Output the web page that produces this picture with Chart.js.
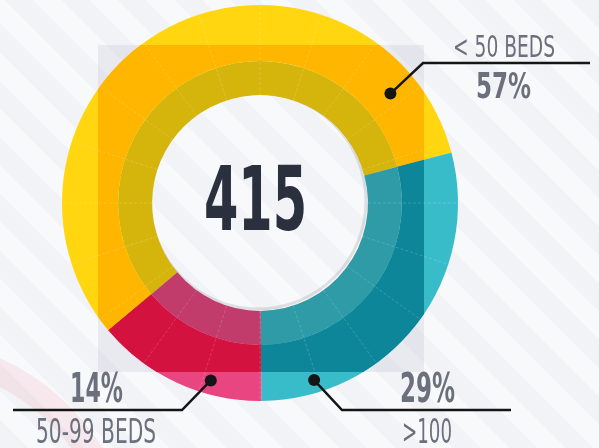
<!DOCTYPE html>
<html>
<head>
<meta charset="utf-8">
<script src="https://cdn.jsdelivr.net/npm/chart.js@4"></script>
<style>
  html, body { margin: 0; padding: 0; }
  body {
    width: 599px; height: 448px; overflow: hidden; position: relative;
    background: repeating-linear-gradient(45deg, #f2f3f6 0 20px, #f8f9fb 20px 40px);
  }
  canvas { position: absolute; left: 0; top: 0; }
  .lbl {
    position: absolute; white-space: nowrap; color: #6b707c; line-height: 1;
    font-family: "Liberation Sans Narrow", "DejaVu Sans Condensed", "Liberation Sans", sans-serif;
    transform-origin: left top;
  }
  .big { font-weight: bold; }
  .dark { color: #2b303e; }
</style>
</head>
<body>
<canvas id="grafico" width="599" height="448"></canvas>
<div id="etiquetas"></div>
<script>
// datos del gráfico
const categorias = ["< 50 BEDS", ">100", "50-99 BEDS"];
const porcentajes = [57, 29, 14];
const total = 415;

// colores: fuera del cuadro, dentro del cuadro, anillo interior
const coloresClaros = ["#ffd60f", "#39bcca", "#e84581"];
const coloresOscuros = ["#ffb600", "#0e8699", "#d3123f"];
const coloresAnillo = ["#d5b50c", "#2e9ba7", "#c13b6b"];

// anotaciones (ángulo del punto en grados, fracción del radio, línea)
const notas = [
  { ang: 50, rf: 0.86, lineY: 63, codoX: 423, finX: 590 },
  { ang: 163, rf: 0.935, lineY: 410, codoX: 342, finX: 511 },
  { ang: 195.5, rf: 0.93, lineY: 410, codoX: 182, finX: 13 }
];

const fondoPlugin = {
  id: "fondo",
  beforeDatasetsDraw(chart) {
    const ctx = chart.ctx;
    const arc = chart.getDatasetMeta(0).data[0];
    const r = arc.outerRadius;
    const hueco = chart.getDatasetMeta(1).data[0].innerRadius;
    // banda rosa tenue
    ctx.save();
    ctx.strokeStyle = "rgba(232,69,100,0.09)";
    ctx.lineWidth = 26;
    ctx.beginPath();
    ctx.moveTo(-10, 368);
    ctx.quadraticCurveTo(55, 395, 95, 460);
    ctx.stroke();
    // cuadro gris con hueco
    ctx.fillStyle = "rgba(195,200,212,0.30)";
    ctx.beginPath();
    ctx.rect(arc.x - 0.818 * r, arc.y - 0.798 * r, 1.646 * r, 1.652 * r);
    ctx.arc(arc.x, arc.y, hueco, 0, Math.PI * 2);
    ctx.fill("evenodd");
    ctx.restore();
  },
  afterDatasetsDraw(chart) {
    const ctx = chart.ctx;
    const meta = chart.getDatasetMeta(0);
    const a0 = meta.data[0];
    const r = a0.outerRadius;
    // parte oscura dentro del cuadro
    ctx.save();
    ctx.beginPath();
    ctx.rect(a0.x - 0.818 * r, a0.y - 0.798 * r, 1.646 * r, 1.652 * r);
    ctx.clip();
    meta.data.forEach((a, i) => {
      ctx.beginPath();
      ctx.arc(a.x, a.y, a.outerRadius, a.startAngle, a.endAngle);
      ctx.arc(a.x, a.y, a.innerRadius, a.endAngle, a.startAngle, true);
      ctx.closePath();
      ctx.fillStyle = coloresOscuros[i];
      ctx.fill();
    });
    ctx.restore();

    // líneas radiales finas
    const hueco = chart.getDatasetMeta(1).data[0].innerRadius;
    ctx.save();
    ctx.strokeStyle = "rgba(255,255,255,0.17)";
    ctx.lineWidth = 1;
    ctx.setLineDash([3, 2]);
    for (let k = 0; k < 20; k++) {
      const t = (k * 18 - 90) * Math.PI / 180;
      ctx.beginPath();
      ctx.moveTo(a0.x + hueco * Math.cos(t), a0.y + hueco * Math.sin(t));
      ctx.lineTo(a0.x + r * Math.cos(t), a0.y + r * Math.sin(t));
      ctx.stroke();
    }
    ctx.restore();

    // sombra del hueco
    ctx.save();
    ctx.beginPath();
    ctx.arc(a0.x, a0.y, hueco, 0, Math.PI * 2);
    ctx.clip();
    ctx.strokeStyle = "rgba(0,0,0,0.10)";
    ctx.lineWidth = 3;
    ctx.beginPath();
    ctx.arc(a0.x - 2, a0.y - 2, hueco, 0, Math.PI * 2);
    ctx.stroke();
    ctx.restore();

    // líneas guía y puntos
    ctx.save();
    ctx.strokeStyle = "#151515";
    ctx.fillStyle = "#151515";
    ctx.lineWidth = 2.5;
    notas.forEach(n => {
      const t = (n.ang - 90) * Math.PI / 180;
      const px = a0.x + n.rf * r * Math.cos(t);
      const py = a0.y + n.rf * r * Math.sin(t);
      ctx.beginPath();
      ctx.moveTo(px, py);
      ctx.lineTo(n.codoX, n.lineY);
      ctx.lineTo(n.finX, n.lineY);
      ctx.stroke();
      ctx.beginPath();
      ctx.arc(px, py, 6, 0, Math.PI * 2);
      ctx.fill();
    });
    ctx.restore();
  }
};

const ctx = document.getElementById("grafico").getContext("2d");
new Chart(ctx, {
  type: "doughnut",
  data: {
    labels: categorias,
    datasets: [
      { data: porcentajes, backgroundColor: coloresClaros, borderWidth: 0, weight: 56 },
      { data: porcentajes, backgroundColor: coloresAnillo, borderWidth: 0, weight: 34 }
    ]
  },
  options: {
    responsive: false,
    animation: false,
    cutout: "54.5%",
    rotation: -130,
    layout: { padding: { left: 62, right: 141, top: 5, bottom: 47 } },
    plugins: { legend: { display: false }, tooltip: { enabled: false } }
  },
  plugins: [fondoPlugin]
});

// textos: x izquierda, alto de mayúscula (top, base) y ancho objetivo
const textos = [
  { t: String(total), x: 204, top: 165, base: 230, w: 103, big: true, dark: true },
  { t: categorias[0], x: 453, top: 35, base: 57, w: 102 },
  { t: porcentajes[0] + "%", x: 476, top: 72, base: 98, w: 55, big: true },
  { t: porcentajes[1] + "%", x: 400, top: 373, base: 403, w: 55, big: true },
  { t: categorias[1], x: 402, top: 420, base: 444, w: 50 },
  { t: porcentajes[2] + "%", x: 70, top: 373, base: 403, w: 53, big: true },
  { t: categorias[2], x: 36, top: 420, base: 444, w: 120 }
];
const cont = document.getElementById("etiquetas");
textos.forEach(o => {
  const d = document.createElement("div");
  d.className = "lbl" + (o.big ? " big" : "") + (o.dark ? " dark" : "");
  d.textContent = o.t;
  const fs = (o.base - o.top) / 0.729;
  d.style.fontSize = fs.toFixed(1) + "px";
  d.style.left = o.x + "px";
  d.style.top = (o.top - 0.117 * fs).toFixed(1) + "px";
  cont.appendChild(d);
  const k = o.w / d.getBoundingClientRect().width;
  d.style.transform = "scaleX(" + k.toFixed(3) + ")";
});
</script>
</body>
</html>
